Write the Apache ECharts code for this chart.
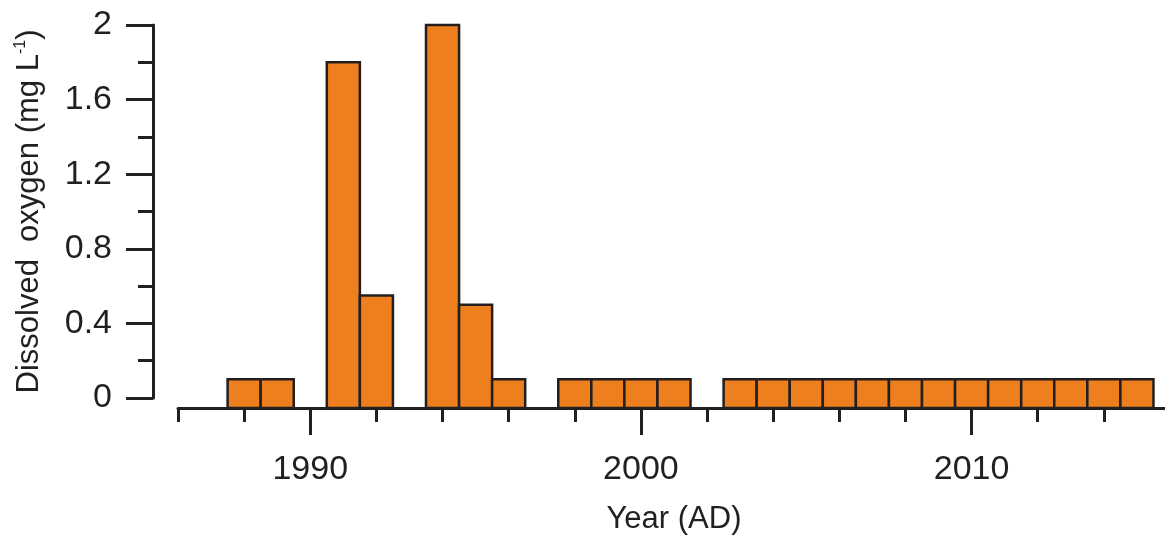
<!DOCTYPE html>
<html><head><meta charset="utf-8">
<script src="https://cdn.jsdelivr.net/npm/echarts@6/dist/echarts.min.js"></script>
<style>html,body{margin:0;padding:0;background:#fff}#c{width:1165px;height:537px}</style>
</head><body><div id="c"></div>
<script>
const years = [1988, 1989, 1991, 1992, 1994, 1995, 1996, 1998, 1999, 2000, 2001,
  2003, 2004, 2005, 2006, 2007, 2008, 2009, 2010, 2011, 2012, 2013, 2014, 2015];
const oxygen = [0.1, 0.1, 1.8, 0.55, 2.0, 0.5, 0.1, 0.1, 0.1, 0.1, 0.1,
  0.1, 0.1, 0.1, 0.1, 0.1, 0.1, 0.1, 0.1, 0.1, 0.1, 0.1, 0.1, 0.1];
const xMajorTicks = [1990, 2000, 2010];
const xName = 'Year (AD)';

const INK = '#231F20';
const BAR = '#EE7F1E';
const AXIS_GAP = 10;
const NUM_FONT = "'Liberation Sans', Arial, sans-serif";
const TITLE_FONT = "'Liberation Sans', Arial, sans-serif";

const chart = echarts.init(document.getElementById('c'), null, {renderer: 'canvas'});
const baseX = {
  type: 'value', min: 1986, max: 2016, position: 'bottom', offset: AXIS_GAP,
  splitLine: {show: false}
};
chart.setOption({
  animation: false,
  backgroundColor: '#fff',
  grid: {left: 178, right: -5, top: 25, bottom: 139, containLabel: false, outerBoundsMode: 'none'},
  xAxis: [
    Object.assign({}, baseX, {
      interval: 2,
      axisLine: {show: true, onZero: false, lineStyle: {color: INK, width: 3}},
      axisTick: {show: true, length: 14, lineStyle: {color: INK, width: 3}},
      axisLabel: {show: false}
    }),
    Object.assign({}, baseX, {
      axisLine: {show: false, onZero: false},
      axisTick: {show: true, length: 27, customValues: xMajorTicks, lineStyle: {color: INK, width: 3}},
      axisLabel: {show: true, customValues: xMajorTicks, color: INK, fontSize: 34, fontFamily: NUM_FONT, margin: 45,
        formatter: v => String(v)},
      name: xName, nameLocation: 'middle', nameGap: 96,
      nameTextStyle: {color: INK, fontSize: 31, fontFamily: TITLE_FONT}
    })
  ],
  yAxis: [
    {
      type: 'value', min: 0, max: 2, interval: 0.2, position: 'left', offset: 25,
      splitLine: {show: false},
      axisLine: {show: true, onZero: false, lineStyle: {color: INK, width: 3}},
      axisTick: {show: true, length: 15, lineStyle: {color: INK, width: 3}},
      axisLabel: {show: false}
    },
    {
      type: 'value', min: 0, max: 2, interval: 0.4, position: 'left', offset: 25,
      splitLine: {show: false},
      axisLine: {show: false, onZero: false},
      axisTick: {show: true, length: 27, lineStyle: {color: INK, width: 3}},
      axisLabel: {show: true, color: INK, fontSize: 34, fontFamily: NUM_FONT, margin: 41,
        formatter: v => (Math.round(v * 10) / 10).toString()},
      name: '{t|Dissolved  oxygen (mg L}{s|-1}{t|)}',
      nameLocation: 'middle', nameRotate: 90, nameGap: 108,
      nameTextStyle: {
        color: INK, fontFamily: TITLE_FONT, fontSize: 31,
        rich: {
          t: {color: INK, fontFamily: TITLE_FONT, fontSize: 31},
          s: {color: INK, fontFamily: TITLE_FONT, fontSize: 16, padding: [0, 0, 16, 0]}
        }
      }
    }
  ],
  series: [{
    type: 'custom',
    xAxisIndex: 0, yAxisIndex: 0,
    data: years.map((y, i) => [y, oxygen[i]]),
    encode: {x: 0, y: 1},
    clip: false,
    renderItem: (params, api) => {
      const yr = api.value(0), v = api.value(1);
      const p0 = api.coord([yr - 0.5, v]);
      const p1 = api.coord([yr + 0.5, 0]);
      return {
        type: 'rect',
        shape: {x: p0[0], y: p0[1], width: p1[0] - p0[0], height: p1[1] - p0[1] + AXIS_GAP},
        style: {fill: BAR, stroke: INK, lineWidth: 2.5}
      };
    }
  }]
});
</script></body></html>
